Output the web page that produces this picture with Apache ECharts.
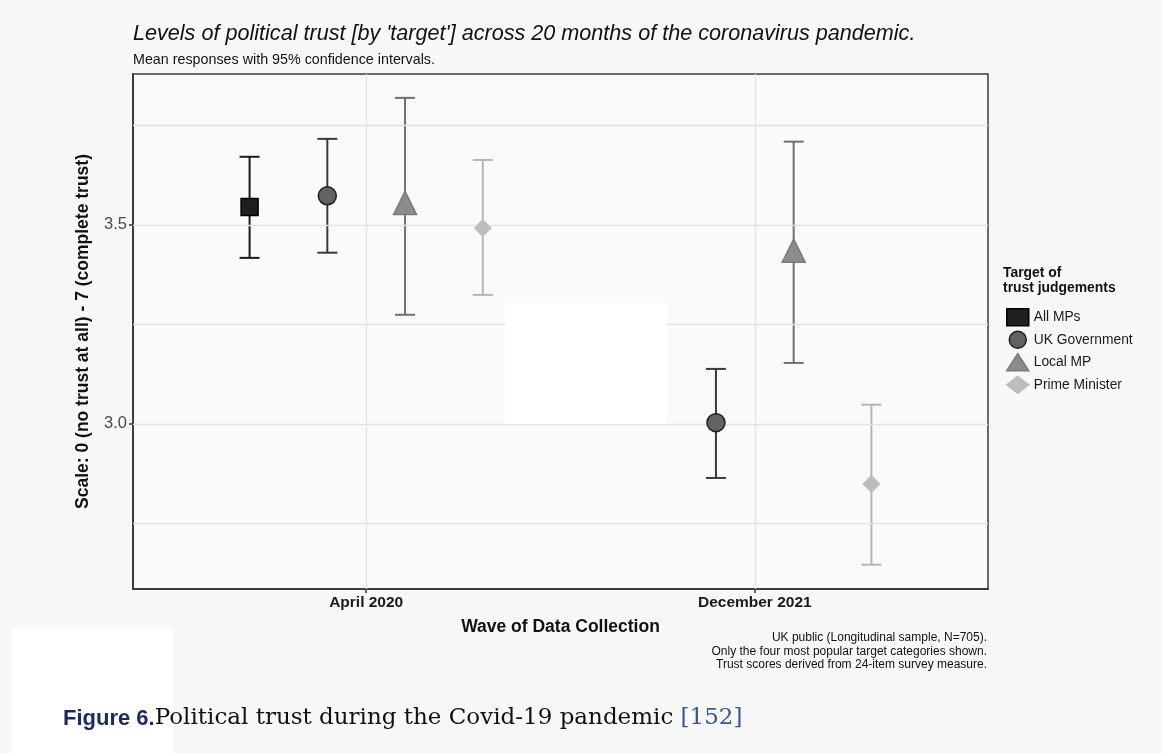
<!DOCTYPE html>
<html>
<head>
<meta charset="utf-8">
<script src="https://cdn.jsdelivr.net/npm/echarts@6/dist/echarts.min.js"></script>
<style>
  html, body { margin: 0; padding: 0; background: #f8f8f8; }
  #chart { width: 1162px; height: 753px; }
</style>
</head>
<body>
<div id="chart"></div>
<script>
// Survey waves (x axis categories)
const waves = ['April 2020', 'December 2021'];
// Trust targets, in legend / dodge order
const targets = ['All MPs', 'UK Government', 'Local MP', 'Prime Minister'];

// Mean trust per target, one value per wave (null = not shown)
const meanAllMPs   = [3.545, null];
const meanUKGov    = [3.573, 3.003];
const meanLocalMP  = [3.555, 3.435];
const meanPM       = [3.492, 2.849];

// 95% confidence interval bounds per target and wave
const lowAllMPs    = [3.417, null];
const highAllMPs   = [3.671, null];
const lowUKGov     = [3.430, 2.864];
const highUKGov    = [3.716, 3.138];
const lowLocalMP   = [3.274, 3.153];
const highLocalMP  = [3.819, 3.709];
const lowPM        = [3.324, 2.646];
const highPM       = [3.663, 3.048];

// Y axis labelled ticks and minor gridlines
const yTickLabels = [3.0, 3.5];
const yGridValues = [2.75, 3.0, 3.25, 3.5, 3.75];

const means = [meanAllMPs, meanUKGov, meanLocalMP, meanPM];
const lows  = [lowAllMPs, lowUKGov, lowLocalMP, lowPM];
const highs = [highAllMPs, highUKGov, highLocalMP, highPM];

const FONT = 'Liberation Sans';

// Per-target styling
const symbols   = ['rect', 'circle', 'triangle', 'diamond'];
const sizes     = [17, 18, 23, 16];
const fills     = ['#1f1f1f', '#626262', '#8c8c8c', '#bdbdbd'];
const borders   = ['#000000', '#1f1f1f', '#7a7a7a', '#bdbdbd'];
const barColors = ['#1a1a1a', '#3a3a3a', '#707070', '#b5b5b5'];

// Dodge: four targets spread across 0.8 of a category slot
const dodge = 0.8;
const offset = i => -dodge / 2 + dodge / targets.length * (i + 0.5);

const barSeries = [];
const pointSeries = [];
targets.forEach((name, i) => {
  const barData = [];
  const pointData = [];
  waves.forEach((w, j) => {
    if (means[i][j] == null) return;
    const x = j + 1 + offset(i);
    barData.push([x, lows[i][j], highs[i][j]]);
    pointData.push([x, means[i][j]]);
  });
  // error bars: vertical whisker with caps
  barSeries.push({
    name: name,
    type: 'custom',
    z: 2,
    silent: true,
    data: barData,
    encode: { x: 0, y: [1, 2] },
    renderItem: (params, api) => {
      const x = api.value(0);
      const lo = api.coord([x, api.value(1)]);
      const hi = api.coord([x, api.value(2)]);
      const cap = 10;
      const style = { stroke: barColors[i], lineWidth: 2, fill: null };
      return {
        type: 'group',
        children: [
          { type: 'line', shape: { x1: lo[0], y1: lo[1], x2: hi[0], y2: hi[1] }, style },
          { type: 'line', shape: { x1: lo[0] - cap, y1: lo[1], x2: lo[0] + cap, y2: lo[1] }, style },
          { type: 'line', shape: { x1: hi[0] - cap, y1: hi[1], x2: hi[0] + cap, y2: hi[1] }, style }
        ]
      };
    }
  });
  // mean markers
  pointSeries.push({
    name: name,
    type: 'scatter',
    z: 6,
    symbol: symbols[i],
    symbolSize: sizes[i],
    itemStyle: { color: fills[i], borderColor: borders[i], borderWidth: 1.5, opacity: 1 },
    emphasis: { disabled: true },
    data: pointData
  });
});

// Panel gridlines drawn as silent mark lines
const gridSeries = {
  type: 'scatter',
  data: [],
  z: 1,
  silent: true,
  markLine: {
    silent: true,
    symbol: 'none',
    label: { show: false },
    animation: false,
    lineStyle: { color: '#e3e3e3', width: 1.3, type: 'solid' },
    data: yGridValues.map(v => ({ yAxis: v })).concat(waves.map((w, j) => ({ xAxis: j + 1 })))
  }
};

const chart = echarts.init(document.getElementById('chart'), null, { renderer: 'canvas' });
chart.setOption({
  backgroundColor: '#f8f8f8',
  animation: false,
  textStyle: { fontFamily: FONT },
  grid: {
    left: 133, right: 174, top: 74, bottom: 164,
    show: true, backgroundColor: '#fafafa', borderColor: '#3c3c3c', borderWidth: 1.5
  },
  xAxis: {
    type: 'value',
    min: 0.4, max: 2.6,
    splitLine: { show: false },
    axisLine: { show: true, onZero: false, lineStyle: { color: '#3c3c3c', width: 2 } },
    axisTick: { show: true, customValues: waves.map((w, j) => j + 1), length: 4, lineStyle: { color: '#333', width: 1.5 } },
    axisLabel: {
      customValues: waves.map((w, j) => j + 1),
      formatter: v => waves[Math.round(v) - 1] || '',
      color: '#1a1a1a', fontSize: 15.5, fontWeight: 'bold', fontFamily: FONT, margin: 6
    },
    name: 'Wave of Data Collection',
    nameLocation: 'middle',
    nameGap: 29,
    nameTextStyle: { color: '#111', fontSize: 17.5, fontWeight: 'bold', fontFamily: FONT }
  },
  yAxis: {
    type: 'value',
    min: 2.585, max: 3.879,
    splitLine: { show: false },
    axisLine: { show: true, onZero: false, lineStyle: { color: '#3c3c3c', width: 2 } },
    axisTick: { show: true, customValues: yTickLabels, length: 4, lineStyle: { color: '#333', width: 1.5 } },
    axisLabel: {
      customValues: yTickLabels,
      formatter: v => v.toFixed(1),
      color: '#4a4a4a', fontSize: 16.5, fontFamily: FONT, margin: 6
    },
    name: 'Scale: 0 (no trust at all) - 7 (complete trust)',
    nameLocation: 'middle',
    nameRotate: 90,
    nameGap: 41,
    nameTextStyle: { color: '#111', fontSize: 17.5, fontWeight: 'bold', fontFamily: FONT }
  },
  legend: {
    orient: 'vertical',
    left: 1001, top: 303,
    itemWidth: 22, itemHeight: 17, itemGap: 4,
    selectedMode: false,
    textStyle: { color: '#1a1a1a', fontSize: 13.8, fontFamily: FONT },
    data: targets.map((name, i) => ({
      name: name,
      icon: symbols[i],
      itemStyle: { color: fills[i], borderColor: borders[i], borderWidth: 1.5 }
    }))
  },
  graphic: [
    {
      type: 'text', left: 133, top: 23, z: 10,
      style: {
        text: "Levels of political trust [by 'target'] across 20 months of the coronavirus pandemic.",
        font: 'italic 21.6px "Liberation Sans"', fill: '#111'
      }
    },
    {
      type: 'text', left: 133, top: 53, z: 10,
      style: { text: 'Mean responses with 95% confidence intervals.', font: '14.3px "Liberation Sans"', fill: '#111' }
    },
    {
      type: 'text', left: 1003, top: 266, z: 10,
      style: { text: 'Target of\ntrust judgements', font: 'bold 13.9px "Liberation Sans"', fill: '#111', lineHeight: 15 }
    },
    {
      type: 'text', x: 987, y: 631, z: 10,
      style: {
        text: 'UK public (Longitudinal sample, N=705).\nOnly the four most popular target categories shown.\nTrust scores derived from 24-item survey measure.',
        font: '12px "Liberation Sans"', fill: '#111', align: 'right', verticalAlign: 'top', lineHeight: 13.5
      }
    },
    // blank patches
    { type: 'rect', z: 50, shape: { x: 505, y: 303, width: 162, height: 121 }, style: { fill: '#ffffff' } },
    { type: 'rect', z: 50, shape: { x: 12, y: 627, width: 161, height: 126 }, style: { fill: '#ffffff' } },
    {
      type: 'text', left: 63, top: 707, z: 60,
      style: {
        text: '{a|Figure 6.}{b|Political trust during the Covid-19 pandemic }{c|[152]}',
        rich: {
          a: { font: 'bold 22px "Liberation Sans"', fill: '#1c2a5c' },
          b: { font: '23px "DejaVu Serif"', fill: '#111' },
          c: { font: '23px "DejaVu Serif"', fill: '#3a559a' }
        }
      }
    }
  ],
  series: [gridSeries].concat(barSeries, pointSeries)
});
</script>
</body>
</html>
